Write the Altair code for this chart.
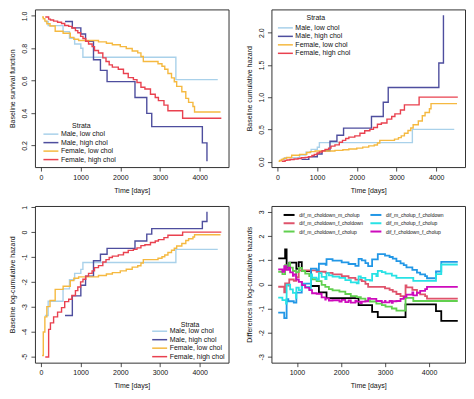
import altair as alt
import pandas as pd

FONT = "Liberation Sans"

# ---------------- strata (panels 1-3) ----------------
strata = ["Male, low chol", "Male, high chol", "Female, low chol", "Female, high chol"]
strata_colors = ["#A9D1EA", "#4E4E9E", "#F5B940", "#E9414F"]

# baseline cumulative hazard step functions (time in days, cumulative hazard)
ml_t = [100, 183, 558, 720, 850, 1006, 1058, 3400, 4455]
ml_h = [0.035, 0.062, 0.102, 0.148, 0.190, 0.223, 0.295, 0.500, 0.500]

mh_t = [608, 792, 1006, 1125, 1325, 1500, 1667, 2370, 2667, 2792, 4067, 4183]
mh_h = [0.035, 0.077, 0.118, 0.170, 0.316, 0.410, 0.520, 0.700, 0.920, 1.150, 1.530, 2.270]

fl_t = [30, 60, 100, 150, 230, 360, 560, 740, 830, 950, 1450, 1650, 1800, 2000, 2150,
        2300, 2440, 2520, 2580, 2950, 3050, 3120, 3200, 3290, 3360, 3420, 3550, 3650,
        3720, 3830, 3870, 4525]
fl_h = [0.007, 0.018, 0.033, 0.050, 0.064, 0.100, 0.113, 0.142, 0.156, 0.165, 0.175,
        0.185, 0.196, 0.210, 0.225, 0.244, 0.259, 0.289, 0.330, 0.350, 0.372, 0.399,
        0.440, 0.482, 0.522, 0.571, 0.631, 0.712, 0.763, 0.819, 0.900, 0.900]

fh_t = [110, 195, 240, 320, 420, 520, 600, 700, 780, 870, 930, 1000, 1060, 1130, 1200,
        1290, 1350, 1450, 1560, 1640, 1720, 1800, 1950, 2080, 2200, 2330, 2420, 2520,
        2620, 2760, 2880, 2960, 3100, 3200, 3570, 4545]
fh_h = [0.0066, 0.020, 0.026, 0.033, 0.040, 0.048, 0.061, 0.067, 0.078, 0.095, 0.110,
        0.135, 0.150, 0.170, 0.190, 0.210, 0.240, 0.260, 0.300, 0.330, 0.360, 0.380,
        0.400, 0.440, 0.480, 0.500, 0.530, 0.580, 0.600, 0.660, 0.700, 0.740, 0.800,
        0.880, 1.000, 1.000]

# ---------------- differences (panel 4) ----------------
diff_names = ["dif_m_choldown_m_cholup", "dif_m_choldown_f_choldown",
              "dif_m_choldown_f_cholup", "dif_m_cholup_f_choldown",
              "dif_m_cholup_f_cholup", "dif_f_choldown_f_cholup"]
diff_colors = ["#000000", "#DF536B", "#61D04F", "#2297E6", "#28E2E5", "#CD0BBC"]

black_t = [574, 731, 765, 825, 986, 1040, 1109, 1316, 1498, 1671, 2399, 2706, 2835, 3465,
           4156, 4276, 4651]
black_v = [1.07, 1.44, 0.65, 0.90, 0.64, 0.92, 0.55, -0.07, -0.33, -0.57, -0.86, -1.14,
           -1.36, -0.83, -1.11, -1.51, -1.51]

red_t = [574, 711, 731, 804, 825, 928, 986, 1040, 1446, 1653, 1808, 2015, 2171, 2326,
         2471, 2554, 2616, 2999, 3103, 3175, 3258, 3351, 3424, 3465, 3486, 3620, 3724,
         3797, 3910, 3952, 4651]
red_v = [-0.10, -0.33, 0.04, -0.05, 0.20, 0.14, 0.30, 0.58, 0.52, 0.47, 0.41, 0.34, 0.27,
         0.19, 0.13, 0.02, -0.11, -0.17, -0.23, -0.30, -0.40, -0.49, -0.57, -0.04, -0.13,
         -0.23, -0.35, -0.42, -0.49, -0.59, -0.59]

green_t = [574, 669, 731, 752, 825, 845, 907, 980, 986, 1040, 1114, 1187, 1280, 1342,
           1446, 1560, 1643, 1725, 1808, 1964, 2098, 2222, 2357, 2450, 2554, 2657, 2802,
           2927, 3010, 3154, 3258, 3465, 3641, 4651]
green_v = [0.52, 0.42, 0.79, 0.64, 0.89, 0.69, 0.55, 0.34, 0.50, 0.68, 0.55, 0.44, 0.34,
           0.21, 0.13, -0.02, -0.11, -0.20, -0.25, -0.30, -0.40, -0.49, -0.53, -0.59,
           -0.68, -0.71, -0.80, -0.86, -0.92, -1.00, -1.09, -0.56, -0.69, -0.69]

blue_t = [574, 711, 765, 804, 928, 986, 1109, 1316, 1446, 1498, 1653, 1671, 1808, 2015,
          2171, 2326, 2399, 2471, 2554, 2616, 2706, 2835, 2999, 3103, 3175, 3258, 3351,
          3424, 3486, 3620, 3724, 3797, 3910, 3952, 4156, 4276, 4651]
blue_v = [-1.17, -1.40, -0.61, -0.70, -0.76, -0.34, 0.03, 0.65, 0.59, 0.85, 0.80, 1.04,
          0.98, 0.91, 0.84, 0.76, 1.05, 0.99, 0.88, 0.75, 1.03, 1.25, 1.19, 1.13, 1.06,
          0.96, 0.87, 0.79, 0.70, 0.60, 0.48, 0.41, 0.34, 0.25, 0.53, 0.93, 0.93]

cyan_t = [574, 669, 752, 765, 845, 907, 980, 986, 1042, 1109, 1187, 1280, 1316, 1342,
          1446, 1498, 1560, 1643, 1671, 1725, 1808, 1964, 2098, 2222, 2357, 2399, 2450,
          2554, 2657, 2706, 2802, 2835, 2927, 3010, 3154, 3258, 3641, 4156, 4276, 4651]
cyan_v = [-0.55, -0.65, -0.80, -0.01, -0.21, -0.35, -0.56, -0.14, -0.24, 0.00, -0.11,
          -0.21, 0.41, 0.28, 0.20, 0.46, 0.31, 0.22, 0.46, 0.37, 0.32, 0.27, 0.17, 0.08,
          0.04, 0.33, 0.27, 0.18, 0.15, 0.43, 0.34, 0.56, 0.50, 0.44, 0.36, 0.27, 0.14,
          0.42, 0.82, 0.82]

magenta_t = [574, 669, 711, 752, 804, 845, 907, 928, 980, 1042, 1114, 1187, 1280, 1342,
             1446, 1560, 1643, 1653, 1725, 1808, 1964, 2015, 2098, 2171, 2222, 2326, 2357,
             2450, 2471, 2554, 2616, 2657, 2802, 2927, 2999, 3010, 3103, 3154, 3175, 3258,
             3351, 3424, 3486, 3620, 3641, 3724, 3797, 3910, 3952, 4651]
magenta_v = [0.62, 0.52, 0.75, 0.60, 0.69, 0.49, 0.35, 0.41, 0.20, 0.10, -0.03, -0.14,
             -0.24, -0.37, -0.39, -0.54, -0.63, -0.58, -0.67, -0.66, -0.71, -0.64, -0.74,
             -0.67, -0.76, -0.68, -0.72, -0.78, -0.72, -0.70, -0.57, -0.60, -0.69, -0.75,
             -0.69, -0.75, -0.69, -0.77, -0.70, -0.69, -0.60, -0.52, -0.43, -0.33, -0.46,
             -0.34, -0.27, -0.20, -0.105, -0.105]

# ---------------- tables ----------------
rows = []
for name, ts, hs in zip(strata, [ml_t, mh_t, fl_t, fh_t], [ml_h, mh_h, fl_h, fh_h]):
    for t, h in zip(ts, hs):
        rows.append({"stratum": name, "time": t, "H": h})
base_df = pd.DataFrame(rows)

series_data = {
    "dif_m_choldown_m_cholup": (black_t, black_v),
    "dif_m_choldown_f_choldown": (red_t, red_v),
    "dif_m_choldown_f_cholup": (green_t, green_v),
    "dif_m_cholup_f_choldown": (blue_t, blue_v),
    "dif_m_cholup_f_cholup": (cyan_t, cyan_v),
    "dif_f_choldown_f_cholup": (magenta_t, magenta_v),
}
drows = []
for name, (ts, vs) in series_data.items():
    for t, v in zip(ts, vs):
        drows.append({"series": name, "t": t, "v": v})
diff_df = pd.DataFrame(drows)

W = 194
H1 = 158
H2 = 157
TXT = "#111111"
LINE_SYMBOL = "M-3,0H3"


def x_axis(values):
    return alt.Axis(title="Time [days]", values=values, format="d", grid=False,
                    domain=False, tickSize=4, tickColor="#222222", tickWidth=0.8,
                    labelPadding=2, titlePadding=6, labelFontSize=7, titleFontSize=7,
                    labelFont=FONT, titleFont=FONT, labelColor=TXT, titleColor=TXT,
                    titleFontWeight="normal", labelFlush=False)


def y_axis(title, values, expr):
    return alt.Axis(title=title, values=values, labelExpr=expr, grid=False,
                    domain=False, tickSize=4, tickColor="#222222", tickWidth=0.8,
                    labelAngle=270, labelAlign="center", labelBaseline="bottom",
                    labelPadding=3, titlePadding=5, labelFontSize=7, titleFontSize=7,
                    labelFont=FONT, titleFont=FONT, labelColor=TXT, titleColor=TXT,
                    titleFontWeight="normal", labelFlush=False)


def strata_legend(x, y, tpad):
    return alt.Legend(title="Strata", orient="none", legendX=x, legendY=y,
                      symbolType=LINE_SYMBOL, symbolSize=25, symbolStrokeWidth=1.5,
                      labelFontSize=7, titleFontSize=7, labelFont=FONT, titleFont=FONT,
                      titleFontWeight="normal", titleAnchor="middle", rowPadding=0.5,
                      labelOffset=6.5, titlePadding=tpad, padding=0, labelColor=TXT,
                      titleColor=TXT)


color_scale = alt.Scale(domain=strata, range=strata_colors)
x_scale = alt.Scale(domain=[-150, 4726], nice=False, zero=False)
ticks_x = [0, 1000, 2000, 3000, 4000]

p1 = alt.Chart(base_df).transform_calculate(
    S="exp(-datum.H)"
).mark_line(interpolate="step-after", strokeWidth=1.4, clip=True).encode(
    x=alt.X("time:Q", scale=x_scale, axis=x_axis(ticks_x)),
    y=alt.Y("S:Q", scale=alt.Scale(domain=[0.067, 1.04], nice=False, zero=False),
            axis=y_axis("Baseline survival function", [0.2, 0.4, 0.6, 0.8, 1.0],
                        "format(datum.value, '.1f')")),
    color=alt.Color("stratum:N", scale=color_scale, legend=strata_legend(12.5, 113, 1.5)),
).properties(width=W, height=H1)

p2 = alt.Chart(base_df).mark_line(interpolate="step-after", strokeWidth=1.4, clip=True).encode(
    x=alt.X("time:Q", scale=x_scale, axis=x_axis(ticks_x)),
    y=alt.Y("H:Q", scale=alt.Scale(domain=[-0.084, 2.36], nice=False, zero=False),
            axis=y_axis("Baseline cumulative hazard", [0.0, 0.5, 1.0, 1.5, 2.0],
                        "format(datum.value, '.1f')")),
    color=alt.Color("stratum:N", scale=color_scale, legend=strata_legend(10.5, 5, 3)),
).properties(width=W, height=H1)

p3 = alt.Chart(base_df).transform_calculate(
    L="log(datum.H)"
).mark_line(interpolate="step-after", strokeWidth=1.4, clip=True).encode(
    x=alt.X("time:Q", scale=x_scale, axis=x_axis(ticks_x)),
    y=alt.Y("L:Q", scale=alt.Scale(domain=[-5.25, 1.05], nice=False, zero=False),
            axis=y_axis("Baseline log-cumulative hazard", [-5, -4, -3, -2, -1, 0, 1],
                        "'' + datum.value")),
    color=alt.Color("stratum:N", scale=color_scale, legend=strata_legend(121.5, 115, 0)),
).properties(width=W, height=H2)

p4 = alt.Chart(diff_df).mark_line(interpolate="step-after", strokeWidth=1.8, clip=True).encode(
    x=alt.X("t:Q", scale=alt.Scale(domain=[420, 4815], nice=False, zero=False),
            axis=x_axis([1000, 2000, 3000, 4000])),
    y=alt.Y("v:Q", scale=alt.Scale(domain=[-3.24, 3.24], nice=False, zero=False),
            axis=y_axis("Differences in log-cumulative hazards", [-3, -2, -1, 0, 1, 2, 3],
                        "'' + datum.value")),
    color=alt.Color("series:N", scale=alt.Scale(domain=diff_names, range=diff_colors),
                    legend=alt.Legend(title=None, orient="none", legendX=14.7, legendY=6,
                                      columns=2, symbolType=LINE_SYMBOL, symbolSize=13.4,
                                      symbolStrokeWidth=2, labelFontSize=5, labelFont=FONT,
                                      labelColor=TXT, columnPadding=2, rowPadding=0.3,
                                      labelOffset=7.2, padding=0)),
).properties(width=W, height=H2)

top = alt.hconcat(p1, p2, spacing=15).resolve_scale(
    x="independent", y="independent", color="independent").resolve_legend(color="independent")
bottom = alt.hconcat(p3, p4, spacing=15).resolve_scale(
    x="independent", y="independent", color="independent").resolve_legend(color="independent")

chart = alt.vconcat(top, bottom, spacing=10).resolve_scale(
    x="independent", y="independent", color="independent"
).resolve_legend(color="independent").properties(
    padding=0
).configure_view(stroke="#333333", strokeWidth=1)

chart.save("out.html", embed_options={"renderer": "svg", "actions": False})
